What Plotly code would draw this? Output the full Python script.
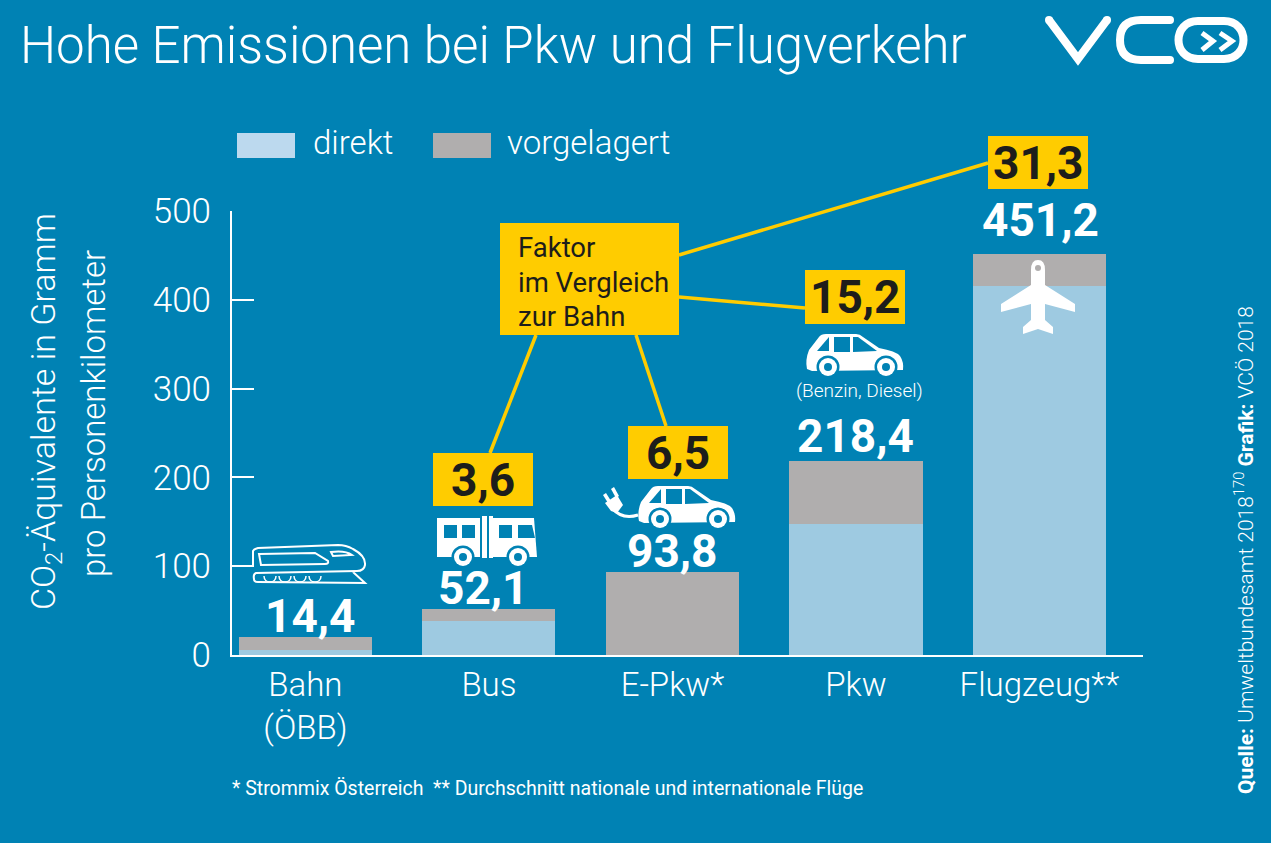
import re
import plotly.graph_objects as go

W = 1271
H = 843

# Daten aus der Grafik
categories = ["Bahn<br>(ÖBB)", "Bus", "E-Pkw*", "Pkw", "Flugzeug**"]
direkt = [6, 38, 0, 147, 416]
vorgelagert = [14, 14.1, 93.8, 71.4, 35.2]
totals_text = ["14,4", "52,1", "93,8", "218,4", "451,2"]
factors_text = ["3,6", "6,5", "15,2", "31,3"]
y_ticks = [0, 100, 200, 300, 400, 500]

BG = "#0082b4"
LIGHT = "#9ecae1"
GREY = "#b0aeae"
YELLOW = "#ffcc00"
DARK = "#1d1d1b"
FONT = "Roboto"


def X(px):
    return px / W


def Y(py):
    return 1 - py / H


# Pfad in Pixeln -> Pfad in paper-Koordinaten
def path(s):
    return re.sub(r"(-?[\d.]+),(-?[\d.]+)",
                  lambda m: f"{X(float(m[1])):.5f},{Y(float(m[2])):.5f}", s)


shapes = []


def fill(s, color="white"):
    shapes.append(dict(type="path", xref="paper", yref="paper", path=path(s),
                       fillcolor=color, line=dict(width=0)))


def stroke(s, width, color="white"):
    shapes.append(dict(type="path", xref="paper", yref="paper", path=path(s),
                       line=dict(color=color, width=width)))


def rect(x0, y0, x1, y1, color):
    shapes.append(dict(type="rect", xref="paper", yref="paper", x0=X(x0), x1=X(x1),
                       y0=Y(y1), y1=Y(y0), fillcolor=color, line=dict(width=0)))


def circle(cx, cy, r, color="white"):
    shapes.append(dict(type="circle", xref="paper", yref="paper", x0=X(cx - r), x1=X(cx + r),
                       y0=Y(cy + r), y1=Y(cy - r), fillcolor=color, line=dict(width=0)))


def line(x0, y0, x1, y1, color=YELLOW, width=3.5):
    shapes.append(dict(type="line", xref="paper", yref="paper", x0=X(x0), x1=X(x1),
                       y0=Y(y0), y1=Y(y1), line=dict(color=color, width=width)))


def wheel(cx, cy):
    circle(cx, cy, 11.5, BG)
    circle(cx, cy, 9)
    circle(cx, cy, 4, BG)


def car(dx, dy):
    def p(x, y):
        return f"{x + dx},{y + dy}"
    fill(f"M {p(807, 369)} Q {p(805, 360)} {p(809, 350)} L {p(819, 337)} Q {p(821, 334)} {p(826, 334)} "
         f"L {p(856, 334)} Q {p(860, 334)} {p(863, 337)} L {p(879, 348)} Q {p(896, 351)} {p(900, 356)} "
         f"Q {p(904, 362)} {p(903, 370)} L {p(812, 371)} Z")
    fill(f"M {p(817, 351)} L {p(829, 337)} L {p(829, 351)} Z", BG)
    fill(f"M {p(834, 337)} L {p(850, 337)} L {p(850, 352)} L {p(834, 352)} Z", BG)
    fill(f"M {p(853, 337)} L {p(858, 337)} L {p(877, 351)} L {p(853, 352)} Z", BG)
    wheel(828 + dx, 367 + dy)
    wheel(886 + dx, 367 + dy)


# Legende
rect(237, 133, 295, 158, "#bcd9ee")
rect(433, 133, 491, 158, GREY)

# Verbindungslinien und gelbe Kästen
line(490, 453, 536, 335)
line(666, 426, 636, 335)
line(805, 308, 679, 297)
line(988, 163, 679, 255)
rect(500, 223, 679, 335, YELLOW)
factor_boxes = [(433, 453, 533, 506), (628, 426, 728, 479), (805, 270, 905, 324), (988, 136, 1088, 189)]
for b in factor_boxes:
    rect(*b, YELLOW)

# Zug
stroke("M 253,566 L 253,551 Q 254,549 258,548 L 338,545 Q 346,545 353,549 Q 366,556 365,565 "
       "Q 364,571 357,571 L 256,573 Q 253,574 254,579 Q 254,582 258,582 L 365,583 L 353,572", 2)
stroke("M 259,554 L 315,553 L 328,561 Q 329,564 325,564 L 261,565 Z", 2)
stroke("M 331,552 Q 345,550 352,555 L 333,556 Z", 2)
for cx in (270, 285, 300, 315):
    stroke(f"M {cx - 6},576 C {cx - 6},584 {cx + 6},584 {cx + 6},576", 1.5)

# Bus
fill("M 437,518 L 480,518 L 480,557 L 437,557 Z")
fill("M 493,518 L 534,518 L 537,557 L 493,557 Z")
rect(482, 516, 487, 558, "white")
rect(489, 516, 493, 558, "white")
for w in [(444, 525, 457, 538), (462, 525, 475, 538), (499, 525, 512, 538)]:
    rect(*w, BG)
fill("M 518,525 L 532,525 L 535,538 L 518,538 Z", BG)
wheel(463, 557)
wheel(518, 557)

# Autos
car(0, 0)
car(-168, 152)

# Stecker
stroke("M 612,508 Q 622,520 638,515", 3)
fill("M 605,503 L 617,495 L 623,505 L 617,513 L 611,511 Z")
fill("M 603,495 L 606,493 L 611,501 L 608,503 Z")
fill("M 611,489 L 614,487 L 619,496 L 616,498 Z")

# Flugzeug
fill("M 1031,270 Q 1031,260 1038,260 Q 1045,260 1045,270 L 1045,285 L 1075,304 L 1075,312 L 1045,304 "
     "L 1045,320 L 1053,327 L 1053,334 L 1038,329 L 1023,334 L 1023,327 L 1031,320 L 1031,304 "
     "L 1001,312 L 1001,304 L 1031,285 Z")
circle(1038, 268, 3, GREY)

# Logo
stroke("M 1049,20 L 1078,59 L 1107,20", 8)
stroke("M 1170,20 L 1141,20 Q 1120,20 1120,40 Q 1120,60 1141,60 L 1170,60", 8)
stroke("M 1198,21 L 1224,21 C 1250,21 1250,59 1224,59 L 1198,59 C 1172,59 1172,21 1198,21 Z", 8)
stroke("M 1202,33 L 1213,41 L 1202,50", 5)
stroke("M 1220,33 L 1232,41 L 1220,50", 5)
for cx, cy in [(1049, 20), (1107, 20), (1170, 20), (1170, 60)]:
    circle(cx, cy, 4)

fig = go.Figure()
xpos = list(range(len(categories)))
fig.add_trace(go.Bar(x=xpos, y=direkt, name="direkt", marker=dict(color=LIGHT, line=dict(width=0))))
fig.add_trace(go.Bar(x=xpos, y=vorgelagert, name="vorgelagert", marker=dict(color=GREY, line=dict(width=0))))


def text(px, py, s, size, color="white", xanchor="center", angle=0, weight=300):
    return dict(xref="paper", yref="paper", x=X(px), y=Y(py), text=s, showarrow=False,
                xanchor=xanchor, yanchor="middle", textangle=angle,
                font=dict(size=size, color=color, family=FONT, weight=weight))


annotations = [
    text(311, 142, "direkt", 33, xanchor="left"),
    text(505, 142, "vorgelagert", 33, xanchor="left"),
    text(516, 248, "Faktor", 27.5, DARK, "left", weight=400),
    text(516, 282, "im Vergleich", 27.5, DARK, "left", weight=400),
    text(516, 316, "zur Bahn", 27.5, DARK, "left", weight=400),
    text(859, 390, "(Benzin, Diesel)", 19),
    text(45, 412, "CO<sub>2</sub>-Äquivalente in Gramm", 34, angle=-90),
    text(93, 414, "pro Personenkilometer", 33, angle=-90),
    text(230, 788, "* Strommix Österreich  ** Durchschnitt nationale und internationale Flüge", 19.5, xanchor="left", weight=400),
    text(1244, 550, "<b>Quelle:</b> Umweltbundesamt 2018<sup>170</sup> <b>Grafik:</b> VCÖ 2018", 21, angle=-90),
]

# Summen über den Balken
label_dx = [5, -5, 0, 0, 1]
label_dy = [21, 21, 21, 25, 34]
for i, s in enumerate(totals_text):
    annotations.append(dict(x=xpos[i], y=direkt[i] + vorgelagert[i], text=s, showarrow=False,
                            xanchor="center", yanchor="middle", xshift=label_dx[i], yshift=label_dy[i],
                            font=dict(size=46, color="white", family=FONT, weight=700)))
for b, s in zip(factor_boxes, factors_text):
    annotations.append(text((b[0] + b[2]) / 2, (b[1] + b[3]) / 2, s, 46, DARK, weight=700))

fig.update_layout(
    width=W, height=H,
    margin=dict(l=0, r=0, t=0, b=0),
    paper_bgcolor=BG, plot_bgcolor=BG,
    barmode="stack", bargap=0.275,
    showlegend=False,
    title=dict(text="Hohe Emissionen bei Pkw und Flugverkehr", x=X(20), xanchor="left",
               y=Y(45), yanchor="middle", font=dict(size=51, color="white", family=FONT, weight=300)),
    xaxis=dict(domain=[X(232), X(1143)], range=[-0.4, 4.564], tickmode="array", tickvals=xpos,
               ticktext=categories, showgrid=False, zeroline=False, showline=True, automargin=False,
               linecolor="white", linewidth=2, ticks="", ticklabelstandoff=-1,
               tickfont=dict(size=33, color="white", family=FONT, weight=300), tickangle=0),
    yaxis=dict(domain=[Y(655), Y(211)], range=[0, 500], tickmode="array", tickvals=y_ticks,
               showgrid=False, zeroline=False, showline=True, linecolor="white", linewidth=2, automargin=False,
               ticks="inside", ticklen=22, tickwidth=2, tickcolor="white", ticklabelstandoff=12,
               tickfont=dict(size=35, color="white", family=FONT, weight=300)),
    shapes=shapes,
    annotations=annotations,
)

fig.write_html("out.html", config={"displayModeBar": False}, post_script="document.body.style.margin='0';")
